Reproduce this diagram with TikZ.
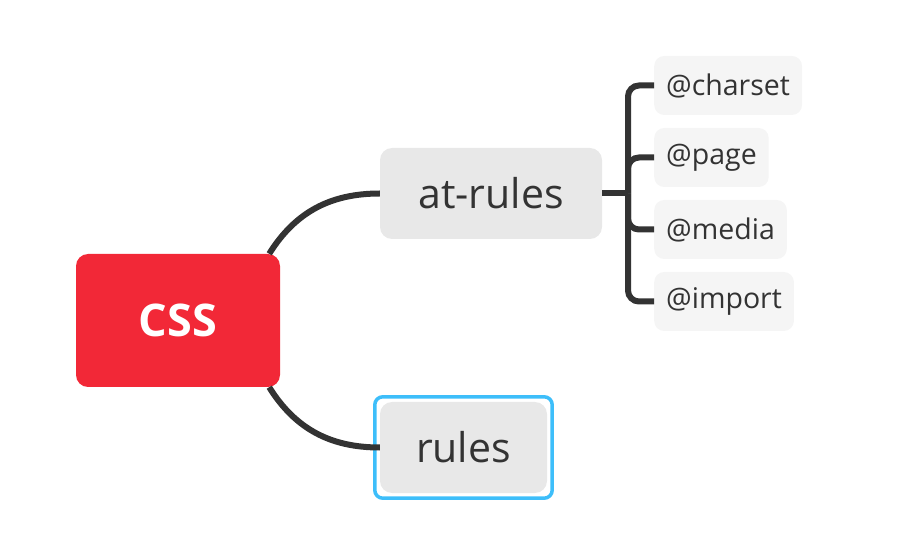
\documentclass[tikz,border=0pt]{standalone}
\usepackage{fontspec}
\setmainfont{Open Sans}
\usetikzlibrary{positioning}
\definecolor{cssred}{HTML}{F22837}
\definecolor{topicgray}{HTML}{E8E8E8}
\definecolor{subgray}{HTML}{F5F5F5}
\definecolor{linegray}{HTML}{333333}
\definecolor{selblue}{HTML}{3DBEFA}

\begin{document}
\begin{tikzpicture}[x=1pt,y=-1pt,
	root/.style={fill=cssred,text=white,rounded corners=12pt,minimum width=204pt,minimum height=133pt,text depth=0pt,font=\fontsize{45}{45}\selectfont\bfseries},
	topic/.style={fill=topicgray,text=linegray,rounded corners=12pt,minimum height=91pt,font=\fontsize{41}{41}\selectfont},
	subtopic/.style={fill=subgray,text=linegray,rounded corners=10pt,minimum height=59pt,inner xsep=12pt,anchor=west,font=\fontsize{28.5}{28.5}\selectfont},
	branch/.style={draw=linegray,line width=6pt}]
			\useasboundingbox (0,0) rectangle (898,548);
			\node[root] (css) at (178,320.5) {CSS};
			\node[topic,minimum width=222pt] (atr) at (491,193.5) {at-rules};
			\node[topic,minimum width=167pt] (rul) at (463.5,447.5) {rules};
			\draw[selblue,line width=3.5pt,rounded corners=8pt] ([xshift=-5pt,yshift=5pt]rul.north west) rectangle ([xshift=5pt,yshift=-5pt]rul.south east);
			
			\draw[branch] ([xshift=-11pt]css.north east) to[out=58,in=180] (atr.west);
			\draw[branch] ([xshift=-11pt]css.south east) to[out=-58,in=180] (rul.west);
			
			\node[subtopic] (cs) at (654,85.5) {@charset};
			\node[subtopic] (pg) at (654,157.5) {@page};
			\node[subtopic] (md) at (654,229.5) {@media};
			\node[subtopic] (im) at (654,301.5) {@import};
			\coordinate (jn) at (628,193.5);
			\draw[branch] (atr.east) -- (jn);
			\foreach \c in {cs,pg,md,im}
				\draw[branch,rounded corners=11pt] (jn) |- (\c.west);
\end{tikzpicture}
\end{document}
